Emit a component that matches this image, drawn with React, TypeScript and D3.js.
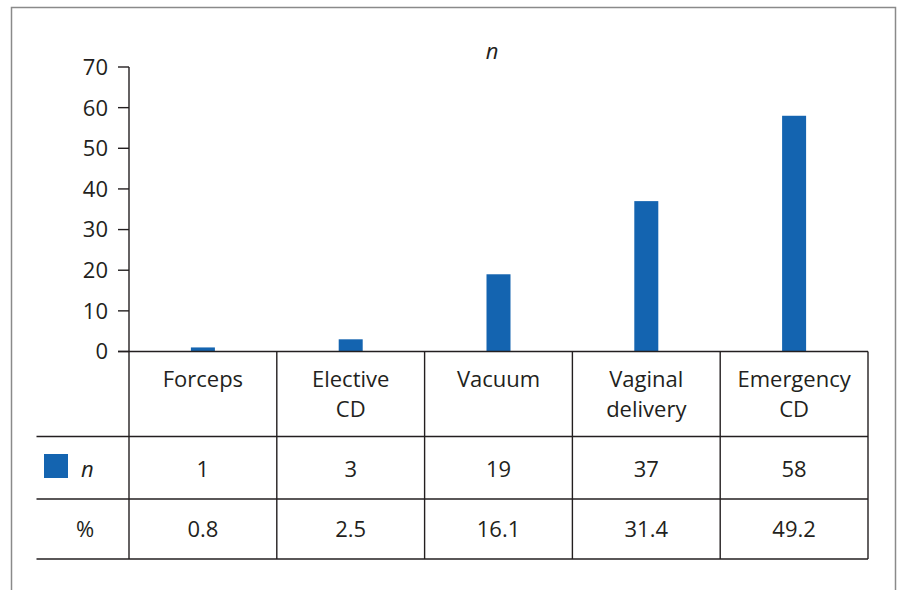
import React from "react";
import * as d3 from "d3";

// ===== data =====
const categories = ["Forceps", "Elective CD", "Vacuum", "Vaginal delivery", "Emergency CD"];
const categoryLines = [["Forceps"], ["Elective", "CD"], ["Vacuum"], ["Vaginal", "delivery"], ["Emergency", "CD"]];
const nValues = [1, 3, 19, 37, 58];
const pctValues = ["0.8", "2.5", "16.1", "31.4", "49.2"];
const yTicks = [0, 10, 20, 30, 40, 50, 60, 70];

const W = 898;
const H = 590;
const FONT = "'Open Sans', 'Noto Sans', sans-serif";
const BLUE = "#1464b0";
const INK = "#231f20";

export default function App() {
  // plot geometry
  const left = 129;
  const right = 868;
  const top = 67;
  const base = 351.5;
  const labelLeft = 36.5;
  const rowLines = [436.5, 499, 559];

  const x = d3.scaleBand<string>().domain(categories).range([left, right]);
  const y = d3.scaleLinear().domain([0, 70]).range([base, top]);
  const barW = 24;

  const colEdges = categories.map((c) => x(c) as number).concat([right]);

  return (
    <svg
      width={W}
      height={H}
      style={{ position: "absolute", left: 0, top: 0, display: "block", background: "#fff" }}
      fontFamily={FONT}
    >
      {/* outer frame */}
      <rect x={11.5} y={7.5} width={884} height={600} fill="none" stroke="#8a8a8a" strokeWidth={1.5} />

      {/* title */}
      <text x={492} y={59} textAnchor="middle" fontSize={22} fontStyle="italic" fill={INK}>
        n
      </text>

      {/* bars */}
      {categories.map((c, i) => (
        <rect
          key={c}
          x={(x(c) as number) + x.bandwidth() / 2 - barW / 2}
          y={y(nValues[i])}
          width={barW}
          height={base - y(nValues[i])}
          fill={BLUE}
        />
      ))}

      {/* y axis */}
      <line x1={left} x2={left} y1={top} y2={base} stroke={INK} strokeWidth={1.4} />
      {yTicks.map((t) => (
        <g key={t}>
          <line x1={left - 11} x2={left} y1={y(t)} y2={y(t)} stroke={INK} strokeWidth={1.4} />
          <text x={108} y={y(t)} dy="0.36em" textAnchor="end" fontSize={22} fill={INK}>
            {t}
          </text>
        </g>
      ))}

      {/* table lines */}
      <line x1={left - 11} x2={right} y1={base} y2={base} stroke={INK} strokeWidth={1.4} />
      {rowLines.map((ry) => (
        <line key={ry} x1={labelLeft} x2={right} y1={ry} y2={ry} stroke={INK} strokeWidth={1.4} />
      ))}
      {colEdges.map((cx, i) => (
        <line key={i} x1={cx} x2={cx} y1={base} y2={rowLines[2]} stroke={INK} strokeWidth={1.4} />
      ))}

      {/* header row */}
      {categories.map((c, i) => (
        <text
          key={c}
          x={(x(c) as number) + x.bandwidth() / 2}
          y={387}
          textAnchor="middle"
          fontSize={22}
          fill={INK}
        >
          {categoryLines[i].map((l, k) => (
            <tspan key={k} x={(x(c) as number) + x.bandwidth() / 2} dy={k === 0 ? 0 : 30}>
              {l}
            </tspan>
          ))}
        </text>
      ))}

      {/* n row */}
      <rect x={44} y={454} width={24} height={24} fill={BLUE} />
      <text x={81} y={477} fontSize={22} fontStyle="italic" fill={INK}>
        n
      </text>
      {categories.map((c, i) => (
        <text
          key={c}
          x={(x(c) as number) + x.bandwidth() / 2}
          y={477}
          textAnchor="middle"
          fontSize={22}
          fill={INK}
        >
          {nValues[i]}
        </text>
      ))}

      {/* % row */}
      <text x={85} y={537} textAnchor="middle" fontSize={22} fill={INK}>
        %
      </text>
      {categories.map((c, i) => (
        <text
          key={c}
          x={(x(c) as number) + x.bandwidth() / 2}
          y={537}
          textAnchor="middle"
          fontSize={22}
          fill={INK}
        >
          {pctValues[i]}
        </text>
      ))}
    </svg>
  );
}
